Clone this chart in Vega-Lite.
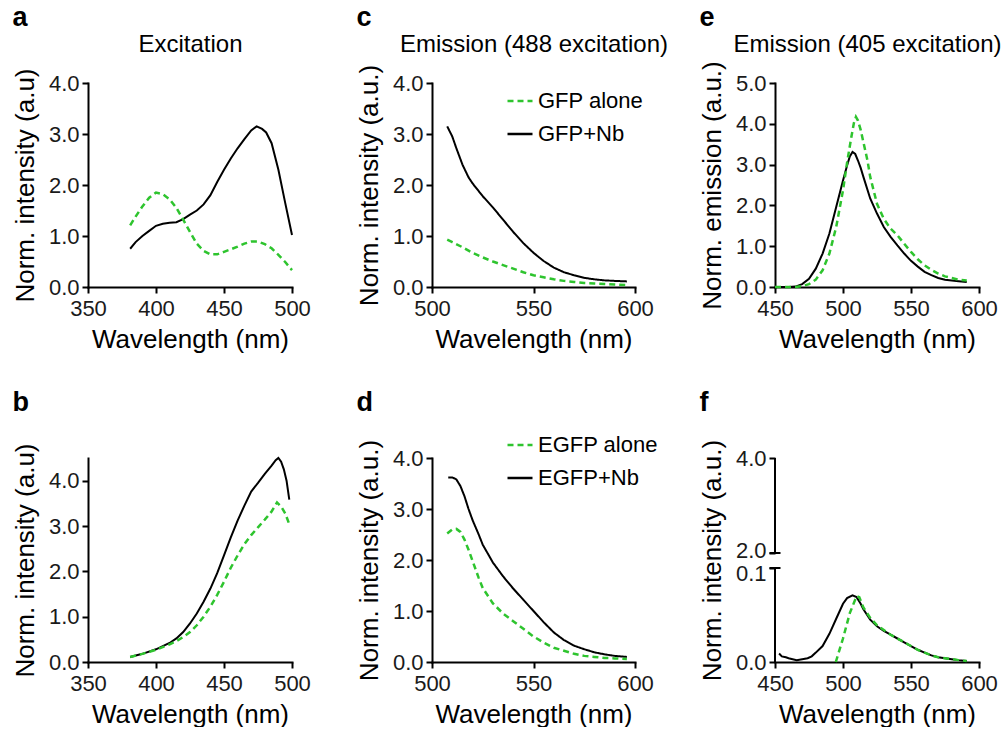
{
  "$schema": "https://vega.github.io/schema/vega-lite/v6.json",
  "background": "white",
  "padding": {"left": 12, "top": 4, "right": 0, "bottom": 0},
  "bounds": "flush",
  "columns": 3,
  "spacing": {"row": 171, "column": 140},
  "datasets": {
    "a": [
      {"w":381,"v":0.75,"s":"GFP+Nb"},{"w":385,"v":0.88,"s":"GFP+Nb"},{"w":390,"v":1.0,"s":"GFP+Nb"},{"w":395,"v":1.1,"s":"GFP+Nb"},{"w":400,"v":1.2,"s":"GFP+Nb"},{"w":405,"v":1.24,"s":"GFP+Nb"},{"w":410,"v":1.26,"s":"GFP+Nb"},{"w":415,"v":1.27,"s":"GFP+Nb"},{"w":420,"v":1.33,"s":"GFP+Nb"},{"w":425,"v":1.42,"s":"GFP+Nb"},{"w":430,"v":1.5,"s":"GFP+Nb"},{"w":435,"v":1.62,"s":"GFP+Nb"},{"w":440,"v":1.8,"s":"GFP+Nb"},{"w":445,"v":2.06,"s":"GFP+Nb"},{"w":450,"v":2.3,"s":"GFP+Nb"},{"w":455,"v":2.52,"s":"GFP+Nb"},{"w":460,"v":2.72,"s":"GFP+Nb"},{"w":465,"v":2.9,"s":"GFP+Nb"},{"w":470,"v":3.07,"s":"GFP+Nb"},{"w":474,"v":3.15,"s":"GFP+Nb"},{"w":478,"v":3.1,"s":"GFP+Nb"},{"w":481,"v":3.03,"s":"GFP+Nb"},{"w":485,"v":2.82,"s":"GFP+Nb"},{"w":490,"v":2.3,"s":"GFP+Nb"},{"w":495,"v":1.65,"s":"GFP+Nb"},{"w":500,"v":1.02,"s":"GFP+Nb"},
      {"w":381,"v":1.21,"s":"GFP alone"},{"w":385,"v":1.38,"s":"GFP alone"},{"w":390,"v":1.58,"s":"GFP alone"},{"w":395,"v":1.75,"s":"GFP alone"},{"w":400,"v":1.85,"s":"GFP alone"},{"w":405,"v":1.82,"s":"GFP alone"},{"w":410,"v":1.72,"s":"GFP alone"},{"w":415,"v":1.55,"s":"GFP alone"},{"w":420,"v":1.32,"s":"GFP alone"},{"w":425,"v":1.08,"s":"GFP alone"},{"w":430,"v":0.85,"s":"GFP alone"},{"w":435,"v":0.71,"s":"GFP alone"},{"w":440,"v":0.64,"s":"GFP alone"},{"w":445,"v":0.64,"s":"GFP alone"},{"w":450,"v":0.69,"s":"GFP alone"},{"w":455,"v":0.74,"s":"GFP alone"},{"w":460,"v":0.79,"s":"GFP alone"},{"w":465,"v":0.85,"s":"GFP alone"},{"w":470,"v":0.89,"s":"GFP alone"},{"w":475,"v":0.89,"s":"GFP alone"},{"w":480,"v":0.84,"s":"GFP alone"},{"w":485,"v":0.76,"s":"GFP alone"},{"w":490,"v":0.63,"s":"GFP alone"},{"w":495,"v":0.49,"s":"GFP alone"},{"w":500,"v":0.33,"s":"GFP alone"}
    ],
    "b": [
      {"w":381,"v":0.11,"s":"EGFP+Nb"},{"w":390,"v":0.18,"s":"EGFP+Nb"},{"w":400,"v":0.28,"s":"EGFP+Nb"},{"w":410,"v":0.42,"s":"EGFP+Nb"},{"w":415,"v":0.52,"s":"EGFP+Nb"},{"w":420,"v":0.66,"s":"EGFP+Nb"},{"w":425,"v":0.85,"s":"EGFP+Nb"},{"w":430,"v":1.07,"s":"EGFP+Nb"},{"w":435,"v":1.33,"s":"EGFP+Nb"},{"w":440,"v":1.62,"s":"EGFP+Nb"},{"w":445,"v":1.96,"s":"EGFP+Nb"},{"w":450,"v":2.35,"s":"EGFP+Nb"},{"w":455,"v":2.75,"s":"EGFP+Nb"},{"w":460,"v":3.12,"s":"EGFP+Nb"},{"w":465,"v":3.45,"s":"EGFP+Nb"},{"w":470,"v":3.76,"s":"EGFP+Nb"},{"w":475,"v":3.95,"s":"EGFP+Nb"},{"w":480,"v":4.15,"s":"EGFP+Nb"},{"w":485,"v":4.33,"s":"EGFP+Nb"},{"w":488,"v":4.45,"s":"EGFP+Nb"},{"w":490,"v":4.5,"s":"EGFP+Nb"},{"w":492,"v":4.42,"s":"EGFP+Nb"},{"w":494,"v":4.25,"s":"EGFP+Nb"},{"w":496,"v":4.0,"s":"EGFP+Nb"},{"w":498,"v":3.58,"s":"EGFP+Nb"},
      {"w":381,"v":0.11,"s":"EGFP alone"},{"w":390,"v":0.18,"s":"EGFP alone"},{"w":400,"v":0.27,"s":"EGFP alone"},{"w":410,"v":0.39,"s":"EGFP alone"},{"w":415,"v":0.46,"s":"EGFP alone"},{"w":420,"v":0.55,"s":"EGFP alone"},{"w":425,"v":0.66,"s":"EGFP alone"},{"w":430,"v":0.81,"s":"EGFP alone"},{"w":435,"v":1.0,"s":"EGFP alone"},{"w":440,"v":1.22,"s":"EGFP alone"},{"w":445,"v":1.48,"s":"EGFP alone"},{"w":450,"v":1.77,"s":"EGFP alone"},{"w":455,"v":2.08,"s":"EGFP alone"},{"w":460,"v":2.35,"s":"EGFP alone"},{"w":465,"v":2.6,"s":"EGFP alone"},{"w":470,"v":2.8,"s":"EGFP alone"},{"w":475,"v":2.97,"s":"EGFP alone"},{"w":480,"v":3.14,"s":"EGFP alone"},{"w":485,"v":3.32,"s":"EGFP alone"},{"w":489,"v":3.52,"s":"EGFP alone"},{"w":492,"v":3.43,"s":"EGFP alone"},{"w":495,"v":3.28,"s":"EGFP alone"},{"w":498,"v":3.04,"s":"EGFP alone"}
    ],
    "c": [
      {"w":507.5,"v":3.15,"s":"GFP+Nb"},{"w":510,"v":2.95,"s":"GFP+Nb"},{"w":512,"v":2.72,"s":"GFP+Nb"},{"w":515,"v":2.4,"s":"GFP+Nb"},{"w":518,"v":2.15,"s":"GFP+Nb"},{"w":520,"v":2.03,"s":"GFP+Nb"},{"w":525,"v":1.78,"s":"GFP+Nb"},{"w":530,"v":1.56,"s":"GFP+Nb"},{"w":535,"v":1.32,"s":"GFP+Nb"},{"w":540,"v":1.08,"s":"GFP+Nb"},{"w":545,"v":0.86,"s":"GFP+Nb"},{"w":550,"v":0.67,"s":"GFP+Nb"},{"w":555,"v":0.51,"s":"GFP+Nb"},{"w":560,"v":0.38,"s":"GFP+Nb"},{"w":565,"v":0.29,"s":"GFP+Nb"},{"w":570,"v":0.23,"s":"GFP+Nb"},{"w":575,"v":0.18,"s":"GFP+Nb"},{"w":580,"v":0.15,"s":"GFP+Nb"},{"w":585,"v":0.13,"s":"GFP+Nb"},{"w":590,"v":0.12,"s":"GFP+Nb"},{"w":596,"v":0.11,"s":"GFP+Nb"},
      {"w":507.5,"v":0.93,"s":"GFP alone"},{"w":510,"v":0.88,"s":"GFP alone"},{"w":515,"v":0.78,"s":"GFP alone"},{"w":520,"v":0.67,"s":"GFP alone"},{"w":525,"v":0.58,"s":"GFP alone"},{"w":530,"v":0.5,"s":"GFP alone"},{"w":535,"v":0.43,"s":"GFP alone"},{"w":540,"v":0.36,"s":"GFP alone"},{"w":545,"v":0.29,"s":"GFP alone"},{"w":550,"v":0.23,"s":"GFP alone"},{"w":555,"v":0.19,"s":"GFP alone"},{"w":560,"v":0.15,"s":"GFP alone"},{"w":565,"v":0.12,"s":"GFP alone"},{"w":570,"v":0.1,"s":"GFP alone"},{"w":575,"v":0.08,"s":"GFP alone"},{"w":580,"v":0.07,"s":"GFP alone"},{"w":585,"v":0.06,"s":"GFP alone"},{"w":590,"v":0.05,"s":"GFP alone"},{"w":596,"v":0.04,"s":"GFP alone"}
    ],
    "d": [
      {"w":508,"v":3.62,"s":"EGFP+Nb"},{"w":510,"v":3.62,"s":"EGFP+Nb"},{"w":512,"v":3.58,"s":"EGFP+Nb"},{"w":514,"v":3.45,"s":"EGFP+Nb"},{"w":516,"v":3.25,"s":"EGFP+Nb"},{"w":518,"v":3.0,"s":"EGFP+Nb"},{"w":520,"v":2.78,"s":"EGFP+Nb"},{"w":523,"v":2.5,"s":"EGFP+Nb"},{"w":525,"v":2.3,"s":"EGFP+Nb"},{"w":530,"v":1.95,"s":"EGFP+Nb"},{"w":535,"v":1.68,"s":"EGFP+Nb"},{"w":540,"v":1.44,"s":"EGFP+Nb"},{"w":545,"v":1.22,"s":"EGFP+Nb"},{"w":550,"v":1.0,"s":"EGFP+Nb"},{"w":555,"v":0.78,"s":"EGFP+Nb"},{"w":560,"v":0.58,"s":"EGFP+Nb"},{"w":565,"v":0.43,"s":"EGFP+Nb"},{"w":570,"v":0.32,"s":"EGFP+Nb"},{"w":575,"v":0.25,"s":"EGFP+Nb"},{"w":580,"v":0.19,"s":"EGFP+Nb"},{"w":585,"v":0.15,"s":"EGFP+Nb"},{"w":590,"v":0.12,"s":"EGFP+Nb"},{"w":596,"v":0.1,"s":"EGFP+Nb"},
      {"w":507.5,"v":2.52,"s":"EGFP alone"},{"w":510,"v":2.6,"s":"EGFP alone"},{"w":512,"v":2.61,"s":"EGFP alone"},{"w":514,"v":2.55,"s":"EGFP alone"},{"w":516,"v":2.4,"s":"EGFP alone"},{"w":518,"v":2.2,"s":"EGFP alone"},{"w":520,"v":1.98,"s":"EGFP alone"},{"w":523,"v":1.65,"s":"EGFP alone"},{"w":525,"v":1.45,"s":"EGFP alone"},{"w":530,"v":1.15,"s":"EGFP alone"},{"w":535,"v":0.95,"s":"EGFP alone"},{"w":540,"v":0.8,"s":"EGFP alone"},{"w":545,"v":0.65,"s":"EGFP alone"},{"w":550,"v":0.5,"s":"EGFP alone"},{"w":555,"v":0.38,"s":"EGFP alone"},{"w":560,"v":0.28,"s":"EGFP alone"},{"w":565,"v":0.22,"s":"EGFP alone"},{"w":570,"v":0.16,"s":"EGFP alone"},{"w":575,"v":0.12,"s":"EGFP alone"},{"w":580,"v":0.1,"s":"EGFP alone"},{"w":585,"v":0.08,"s":"EGFP alone"},{"w":590,"v":0.07,"s":"EGFP alone"},{"w":596,"v":0.06,"s":"EGFP alone"}
    ],
    "e": [
      {"w":450,"v":0,"s":"GFP+Nb"},{"w":460,"v":0,"s":"GFP+Nb"},{"w":465,"v":0.01,"s":"GFP+Nb"},{"w":470,"v":0.07,"s":"GFP+Nb"},{"w":475,"v":0.2,"s":"GFP+Nb"},{"w":480,"v":0.45,"s":"GFP+Nb"},{"w":485,"v":0.82,"s":"GFP+Nb"},{"w":490,"v":1.31,"s":"GFP+Nb"},{"w":495,"v":1.96,"s":"GFP+Nb"},{"w":500,"v":2.61,"s":"GFP+Nb"},{"w":503,"v":2.98,"s":"GFP+Nb"},{"w":505,"v":3.2,"s":"GFP+Nb"},{"w":507,"v":3.31,"s":"GFP+Nb"},{"w":509,"v":3.26,"s":"GFP+Nb"},{"w":511,"v":3.1,"s":"GFP+Nb"},{"w":513,"v":2.92,"s":"GFP+Nb"},{"w":515,"v":2.7,"s":"GFP+Nb"},{"w":520,"v":2.17,"s":"GFP+Nb"},{"w":525,"v":1.8,"s":"GFP+Nb"},{"w":530,"v":1.47,"s":"GFP+Nb"},{"w":535,"v":1.23,"s":"GFP+Nb"},{"w":540,"v":1.02,"s":"GFP+Nb"},{"w":545,"v":0.82,"s":"GFP+Nb"},{"w":550,"v":0.64,"s":"GFP+Nb"},{"w":555,"v":0.5,"s":"GFP+Nb"},{"w":560,"v":0.37,"s":"GFP+Nb"},{"w":565,"v":0.29,"s":"GFP+Nb"},{"w":570,"v":0.22,"s":"GFP+Nb"},{"w":575,"v":0.18,"s":"GFP+Nb"},{"w":580,"v":0.16,"s":"GFP+Nb"},{"w":585,"v":0.14,"s":"GFP+Nb"},{"w":591,"v":0.12,"s":"GFP+Nb"},
      {"w":450,"v":0,"s":"GFP alone"},{"w":465,"v":0,"s":"GFP alone"},{"w":470,"v":0.02,"s":"GFP alone"},{"w":475,"v":0.07,"s":"GFP alone"},{"w":480,"v":0.18,"s":"GFP alone"},{"w":485,"v":0.41,"s":"GFP alone"},{"w":490,"v":0.82,"s":"GFP alone"},{"w":495,"v":1.47,"s":"GFP alone"},{"w":500,"v":2.37,"s":"GFP alone"},{"w":503,"v":3.05,"s":"GFP alone"},{"w":506,"v":3.65,"s":"GFP alone"},{"w":508,"v":4.02,"s":"GFP alone"},{"w":509.5,"v":4.17,"s":"GFP alone"},{"w":511,"v":4.08,"s":"GFP alone"},{"w":513,"v":3.85,"s":"GFP alone"},{"w":515,"v":3.55,"s":"GFP alone"},{"w":518,"v":3.1,"s":"GFP alone"},{"w":520,"v":2.7,"s":"GFP alone"},{"w":525,"v":2.04,"s":"GFP alone"},{"w":530,"v":1.67,"s":"GFP alone"},{"w":535,"v":1.43,"s":"GFP alone"},{"w":540,"v":1.27,"s":"GFP alone"},{"w":545,"v":1.06,"s":"GFP alone"},{"w":550,"v":0.86,"s":"GFP alone"},{"w":555,"v":0.68,"s":"GFP alone"},{"w":560,"v":0.53,"s":"GFP alone"},{"w":565,"v":0.42,"s":"GFP alone"},{"w":570,"v":0.33,"s":"GFP alone"},{"w":575,"v":0.26,"s":"GFP alone"},{"w":580,"v":0.22,"s":"GFP alone"},{"w":585,"v":0.18,"s":"GFP alone"},{"w":591,"v":0.16,"s":"GFP alone"}
    ],
    "f": [
      {"w":453,"v":0.009,"s":"EGFP+Nb"},{"w":455,"v":0.006,"s":"EGFP+Nb"},{"w":458,"v":0.005,"s":"EGFP+Nb"},{"w":460,"v":0.004,"s":"EGFP+Nb"},{"w":463,"v":0.003,"s":"EGFP+Nb"},{"w":466,"v":0.002,"s":"EGFP+Nb"},{"w":470,"v":0.003,"s":"EGFP+Nb"},{"w":474,"v":0.004,"s":"EGFP+Nb"},{"w":477,"v":0.006,"s":"EGFP+Nb"},{"w":480,"v":0.01,"s":"EGFP+Nb"},{"w":485,"v":0.017,"s":"EGFP+Nb"},{"w":490,"v":0.03,"s":"EGFP+Nb"},{"w":495,"v":0.046,"s":"EGFP+Nb"},{"w":500,"v":0.062,"s":"EGFP+Nb"},{"w":503,"v":0.068,"s":"EGFP+Nb"},{"w":507,"v":0.071,"s":"EGFP+Nb"},{"w":510,"v":0.069,"s":"EGFP+Nb"},{"w":513,"v":0.062,"s":"EGFP+Nb"},{"w":515,"v":0.056,"s":"EGFP+Nb"},{"w":520,"v":0.045,"s":"EGFP+Nb"},{"w":525,"v":0.038,"s":"EGFP+Nb"},{"w":530,"v":0.033,"s":"EGFP+Nb"},{"w":535,"v":0.029,"s":"EGFP+Nb"},{"w":540,"v":0.025,"s":"EGFP+Nb"},{"w":545,"v":0.021,"s":"EGFP+Nb"},{"w":550,"v":0.017,"s":"EGFP+Nb"},{"w":555,"v":0.013,"s":"EGFP+Nb"},{"w":560,"v":0.01,"s":"EGFP+Nb"},{"w":565,"v":0.007,"s":"EGFP+Nb"},{"w":570,"v":0.005,"s":"EGFP+Nb"},{"w":575,"v":0.004,"s":"EGFP+Nb"},{"w":580,"v":0.003,"s":"EGFP+Nb"},{"w":585,"v":0.002,"s":"EGFP+Nb"},{"w":591,"v":0.001,"s":"EGFP+Nb"},
      {"w":494.7,"v":0,"s":"EGFP alone"},{"w":500,"v":0.025,"s":"EGFP alone"},{"w":505,"v":0.052,"s":"EGFP alone"},{"w":510,"v":0.07,"s":"EGFP alone"},{"w":512,"v":0.069,"s":"EGFP alone"},{"w":515,"v":0.058,"s":"EGFP alone"},{"w":520,"v":0.047,"s":"EGFP alone"},{"w":525,"v":0.039,"s":"EGFP alone"},{"w":530,"v":0.034,"s":"EGFP alone"},{"w":535,"v":0.029,"s":"EGFP alone"},{"w":540,"v":0.025,"s":"EGFP alone"},{"w":545,"v":0.021,"s":"EGFP alone"},{"w":550,"v":0.017,"s":"EGFP alone"},{"w":555,"v":0.013,"s":"EGFP alone"},{"w":560,"v":0.01,"s":"EGFP alone"},{"w":565,"v":0.007,"s":"EGFP alone"},{"w":570,"v":0.005,"s":"EGFP alone"},{"w":575,"v":0.004,"s":"EGFP alone"},{"w":580,"v":0.003,"s":"EGFP alone"},{"w":585,"v":0.002,"s":"EGFP alone"},{"w":591,"v":0.001,"s":"EGFP alone"}
    ],
    "faxis": [{"y0":0,"y1":0.1},{"y0":2,"y1":4}],
    "fbreak": [{"y":0.1},{"y":2}]
  },
  "concat": [
    {
      "width": 204, "height": 204,
      "title": {"text": "a", "offset": 0},
      "data": {"name": "a"},
      "encoding": {
        "y": {"field":"v","type":"quantitative","scale":{"domain":[0,4],"nice":false},"axis":{"values":[0,1,2,3,4],"format":".1f","title":"Norm. intensity (a.u)"}}
      },
      "layer": [
        {"transform":[{"filter":"datum.s === 'GFP+Nb'"}],"mark":{"type":"line","color":"#000000","strokeWidth":2},
         "encoding":{"x":{"field":"w","type":"quantitative","scale":{"domain":[350,500],"nice":false},"axis":{"values":[350,400,450,500],"title":"Wavelength (nm)"}}}},
        {"transform":[{"filter":"datum.s === 'GFP alone'"}],"mark":{"type":"line","color":"#2ec42e","strokeWidth":2.5,"strokeDash":[6,4]},
         "encoding":{"x":{"field":"w","type":"quantitative","scale":{"domain":[350,500],"nice":false},"axis":{"orient":"top","title":"Excitation","domain":false,"ticks":false,"labels":false,"titleFontSize":24,"titlePadding":27}}}}
      ],
      "resolve": {"axis": {"x": "independent"}}
    },
    {
      "width": 203, "height": 204,
      "title": {"text": "c", "offset": 0},
      "data": {"name": "c"},
      "encoding": {
        "y": {"field":"v","type":"quantitative","scale":{"domain":[0,4],"nice":false},"axis":{"values":[0,1,2,3,4],"format":".1f","title":"Norm. intensity (a.u.)"}},
        "color": {"field":"s","type":"nominal","scale":{"domain":["GFP alone","GFP+Nb"],"range":["#2ec42e","#000000"]},"legend":{"orient":"none","legendX":74,"legendY":4,"title":null}},
        "strokeDash": {"field":"s","type":"nominal","scale":{"domain":["GFP alone","GFP+Nb"],"range":[[6,4],[1,0]]},"legend":{"orient":"none","legendX":74,"legendY":4,"title":null}}
      },
      "layer": [
        {"transform":[{"filter":"datum.s === 'GFP+Nb'"}],"mark":{"type":"line","strokeWidth":2},
         "encoding":{"x":{"field":"w","type":"quantitative","scale":{"domain":[500,600],"nice":false},"axis":{"values":[500,550,600],"title":"Wavelength (nm)"}}}},
        {"transform":[{"filter":"datum.s === 'GFP alone'"}],"mark":{"type":"line","strokeWidth":2.5},
         "encoding":{"x":{"field":"w","type":"quantitative","scale":{"domain":[500,600],"nice":false},"axis":{"orient":"top","title":"Emission (488 excitation)","domain":false,"ticks":false,"labels":false,"titleFontSize":24,"titlePadding":27}}}}
      ],
      "resolve": {"axis": {"x": "independent"}}
    },
    {
      "width": 204, "height": 204,
      "title": {"text": "e", "offset": 0},
      "data": {"name": "e"},
      "encoding": {
        "y": {"field":"v","type":"quantitative","scale":{"domain":[0,5],"nice":false},"axis":{"values":[0,1,2,3,4,5],"format":".1f","title":"Norm. emission (a.u.)"}}
      },
      "layer": [
        {"transform":[{"filter":"datum.s === 'GFP+Nb'"}],"mark":{"type":"line","color":"#000000","strokeWidth":2},
         "encoding":{"x":{"field":"w","type":"quantitative","scale":{"domain":[450,600],"nice":false},"axis":{"values":[450,500,550,600],"title":"Wavelength (nm)"}}}},
        {"transform":[{"filter":"datum.s === 'GFP alone'"}],"mark":{"type":"line","color":"#2ec42e","strokeWidth":2.5,"strokeDash":[6,4]},
         "encoding":{"x":{"field":"w","type":"quantitative","scale":{"domain":[450,600],"nice":false},"axis":{"orient":"top","title":"Emission (405 excitation)","domain":false,"ticks":false,"labels":false,"titleFontSize":24,"titlePadding":27,"titleX":92}}}}
      ],
      "resolve": {"axis": {"x": "independent"}}
    },
    {
      "width": 204, "height": 204,
      "title": {"text": "b", "offset": 26},
      "data": {"name": "b"},
      "encoding": {
        "x": {"field":"w","type":"quantitative","scale":{"domain":[350,500],"nice":false},"axis":{"values":[350,400,450,500],"title":"Wavelength (nm)"}},
        "y": {"field":"v","type":"quantitative","scale":{"domain":[0,4.5],"nice":false},"axis":{"values":[0,1,2,3,4],"format":".1f","title":"Norm. intensity (a.u)"}}
      },
      "layer": [
        {"transform":[{"filter":"datum.s === 'EGFP+Nb'"}],"mark":{"type":"line","color":"#000000","strokeWidth":2}},
        {"transform":[{"filter":"datum.s === 'EGFP alone'"}],"mark":{"type":"line","color":"#2ec42e","strokeWidth":2.5,"strokeDash":[6,4]}}
      ]
    },
    {
      "width": 203, "height": 204,
      "title": {"text": "d", "offset": 14},
      "data": {"name": "d"},
      "encoding": {
        "x": {"field":"w","type":"quantitative","scale":{"domain":[500,600],"nice":false},"axis":{"values":[500,550,600],"title":"Wavelength (nm)"}},
        "y": {"field":"v","type":"quantitative","scale":{"domain":[0,4],"nice":false},"axis":{"values":[0,1,2,3,4],"format":".1f","title":"Norm. intensity (a.u.)"}},
        "color": {"field":"s","type":"nominal","scale":{"domain":["EGFP alone","EGFP+Nb"],"range":["#2ec42e","#000000"]},"legend":{"orient":"none","legendX":74,"legendY":-27,"title":null}},
        "strokeDash": {"field":"s","type":"nominal","scale":{"domain":["EGFP alone","EGFP+Nb"],"range":[[6,4],[1,0]]},"legend":{"orient":"none","legendX":74,"legendY":-27,"title":null}}
      },
      "layer": [
        {"transform":[{"filter":"datum.s === 'EGFP+Nb'"}],"mark":{"type":"line","strokeWidth":2}},
        {"transform":[{"filter":"datum.s === 'EGFP alone'"}],"mark":{"type":"line","strokeWidth":2.5}}
      ]
    },
    {
      "width": 204, "height": 204,
      "title": {"text": "f", "offset": 22},
      "layer": [
        {"data":{"name":"faxis"},"mark":{"type":"rule","color":"#000000","strokeWidth":2},
         "encoding":{
           "x":{"datum":450,"type":"quantitative","scale":{"domain":[450,600],"nice":false},"axis":{"values":[450,500,550,600],"title":"Wavelength (nm)"}},
           "y":{"field":"y0","type":"quantitative","scale":{"domain":[0,0.1,2,4],"range":[204,110,95,0],"nice":false,"zero":false},"axis":{"values":[0,0.1,2,4],"format":".1f","domain":false,"title":"Norm. intensity (a.u.)","labelOffset":{"condition":[{"test":"datum.value == 0.1","value":5},{"test":"datum.value == 2","value":-3}],"value":0}}},
           "y2":{"field":"y1"}}},
        {"data":{"name":"fbreak"},"mark":{"type":"tick","orient":"horizontal","size":11,"thickness":2,"color":"#000000","opacity":1},
         "encoding":{
           "x":{"datum":450,"type":"quantitative","scale":{"domain":[450,600],"nice":false}},
           "y":{"field":"y","type":"quantitative","scale":{"domain":[0,0.1,2,4],"range":[204,110,95,0],"nice":false,"zero":false}}}},
        {"data":{"name":"f"},"transform":[{"filter":"datum.s === 'EGFP+Nb'"}],"mark":{"type":"line","color":"#000000","strokeWidth":2},
         "encoding":{
           "x":{"field":"w","type":"quantitative","scale":{"domain":[450,600],"nice":false}},
           "y":{"field":"v","type":"quantitative","scale":{"domain":[0,0.1,2,4],"range":[204,110,95,0],"nice":false,"zero":false}}}},
        {"data":{"name":"f"},"transform":[{"filter":"datum.s === 'EGFP alone'"}],"mark":{"type":"line","color":"#2ec42e","strokeWidth":2.5,"strokeDash":[6,4]},
         "encoding":{
           "x":{"field":"w","type":"quantitative","scale":{"domain":[450,600],"nice":false}},
           "y":{"field":"v","type":"quantitative","scale":{"domain":[0,0.1,2,4],"range":[204,110,95,0],"nice":false,"zero":false}}}}
      ]
    }
  ],
  "resolve": {"scale": {"color": "independent", "strokeDash": "independent"}},
  "config": {
    "font": "Liberation Sans",
    "view": {"stroke": null},
    "axis": {"grid": false, "domainColor": "#000000", "domainWidth": 2, "domainCap": "square", "tickColor": "#000000", "tickWidth": 2, "tickSize": 6, "labelFontSize": 22, "labelColor": "#1a1a1a", "labelPadding": 3, "labelFlush": false, "labelOverlap": false, "titleFontSize": 26, "titleFontWeight": "normal", "titleColor": "#000000", "titlePadding": 10},
    "axisBottom": {"labelPadding": 5, "titlePadding": 7},
    "title": {"fontSize": 27, "fontWeight": "bold", "anchor": "start", "frame": "bounds", "color": "#000000"},
    "legend": {"symbolType": "stroke", "symbolSize": 625, "symbolStrokeWidth": 2.5, "labelFontSize": 22, "labelColor": "#000000", "labelOffset": 4, "rowPadding": 8, "padding": 0}
  }
}
